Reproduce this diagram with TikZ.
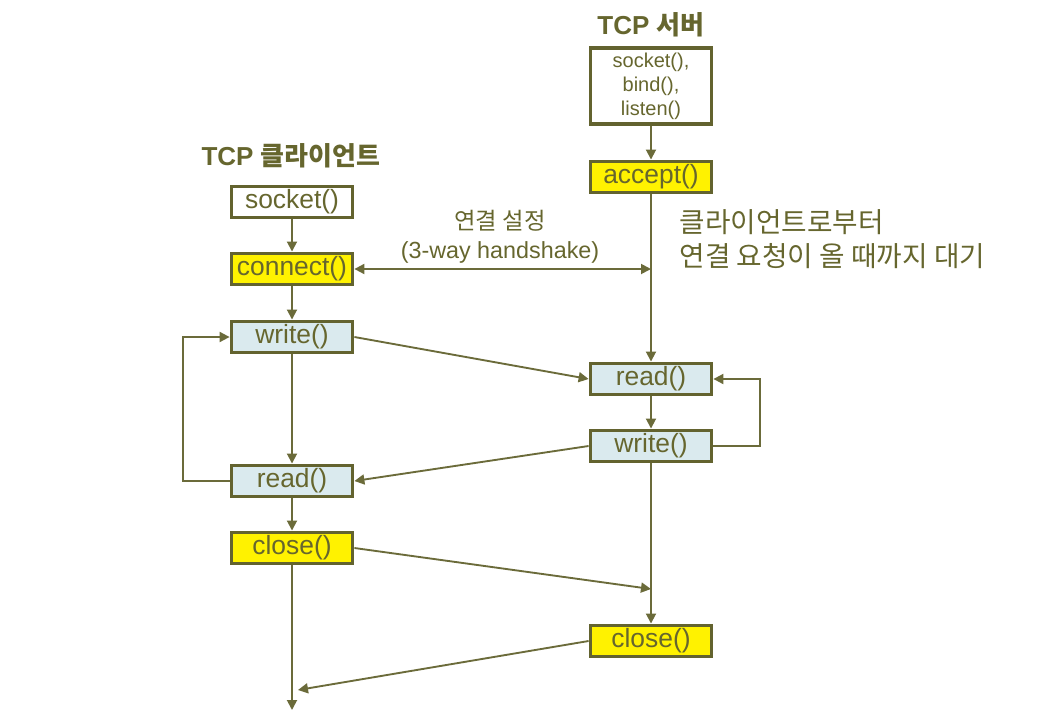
\documentclass[tikz,border=0pt]{standalone}
\usepackage{fontspec}
\setmainfont{Liberation Sans}
\newfontfamily\krfont{Noto Sans CJK KR}
\usetikzlibrary{arrows.meta,positioning}
\definecolor{lineolive}{HTML}{6B6B3A}
\definecolor{boxolive}{HTML}{63632F}
\definecolor{txtolive}{HTML}{66662E}
\definecolor{iofill}{HTML}{DAEAEE}

\begin{document}
\begin{tikzpicture}[
    x=0.75pt, y=-0.75pt,
    box/.style={rectangle, draw=boxolive, line width=2.6pt, minimum width=91pt,
        minimum height=23.6pt, inner sep=0pt, text=txtolive,
        font=\fontsize{19.8}{22}\selectfont},
    plainbox/.style={box, fill=white},
    callbox/.style={box, fill=yellow},
    iobox/.style={box, fill=iofill},
    title/.style={text=txtolive, font=\bfseries\fontsize{19.5}{22}\selectfont},
    note/.style={text=txtolive, align=center, font=\fontsize{17.5}{22}\selectfont},
    waitnote/.style={text=txtolive, align=left, font=\krfont\fontsize{20.8}{25.5}\selectfont},
    arrow/.style={-{Triangle[length=7.5pt,width=7.5pt]}, line width=1.4pt, draw=lineolive},
    dblarrow/.style={{Triangle[length=7.5pt,width=7.5pt]}-{Triangle[length=7.5pt,width=7.5pt]},
        line width=1.4pt, draw=lineolive}
]
\useasboundingbox (0,0) rectangle (1040,722);

% titles
\node[title] (ctitle) at (291,156) {TCP {\krfont 클라이언트}};
\node[title] (stitle) at (651,25) {TCP {\krfont 서버}};

% server side
\node[plainbox, minimum height=57pt, align=center,
      font=\fontsize{15}{18}\selectfont] (ssock) at (651,86) {socket(),\\bind(),\\listen()};
\node[callbox] (accept) at (651,177) {accept()};
\node[iobox] (sread) at (651,379) {read()};
\node[iobox] (swrite) at (651,446) {write()};
\node[callbox] (sclose) at (651,641) {close()};

% client side
\node[plainbox] (csock) at (292,202) {socket()};
\node[callbox] (connect) at (292,269) {connect()};
\node[iobox] (cwrite) at (292,337) {write()};
\node[iobox] (cread) at (292,481) {read()};
\node[callbox] (cclose) at (292,548) {close()};

% notes
\node[note] (hsnote) at (500,237) {{\krfont 연결 설정}\\(3-way handshake)};
\node[waitnote, anchor=west] (wait) at (675,239) {클라이언트로부터\\연결 요청이 올 때까지 대기};

\coordinate (hsend) at (651,269);
\coordinate (smeet) at (651,589);
\coordinate (cmeet) at (298,690);
\coordinate (cend) at (292,710);

% server flow
\draw[arrow] (ssock) -- (accept);
\draw[arrow] (accept) -- (sread);
\draw[arrow] (sread) -- (swrite);
\draw[arrow] (swrite) -- (sclose);
\draw[arrow] (swrite.east) -- ++(47,0) |- (sread.east);

% client flow
\draw[arrow] (csock) -- (connect);
\draw[arrow] (connect) -- (cwrite);
\draw[arrow] (cwrite) -- (cread);
\draw[arrow] (cread) -- (cclose);
\draw[arrow] (cclose) -- (cend);
\draw[arrow] (cread.west) -- ++(-47,0) |- (cwrite.west);

% exchanges
\draw[dblarrow] (connect.east) -- (hsend);
\draw[arrow] (cwrite.east) -- (sread.west);
\draw[arrow] (swrite.west) -- (cread.east);
\draw[arrow] (cclose.east) -- (smeet);
\draw[arrow] (sclose.west) -- (cmeet);
\end{tikzpicture}
\end{document}
